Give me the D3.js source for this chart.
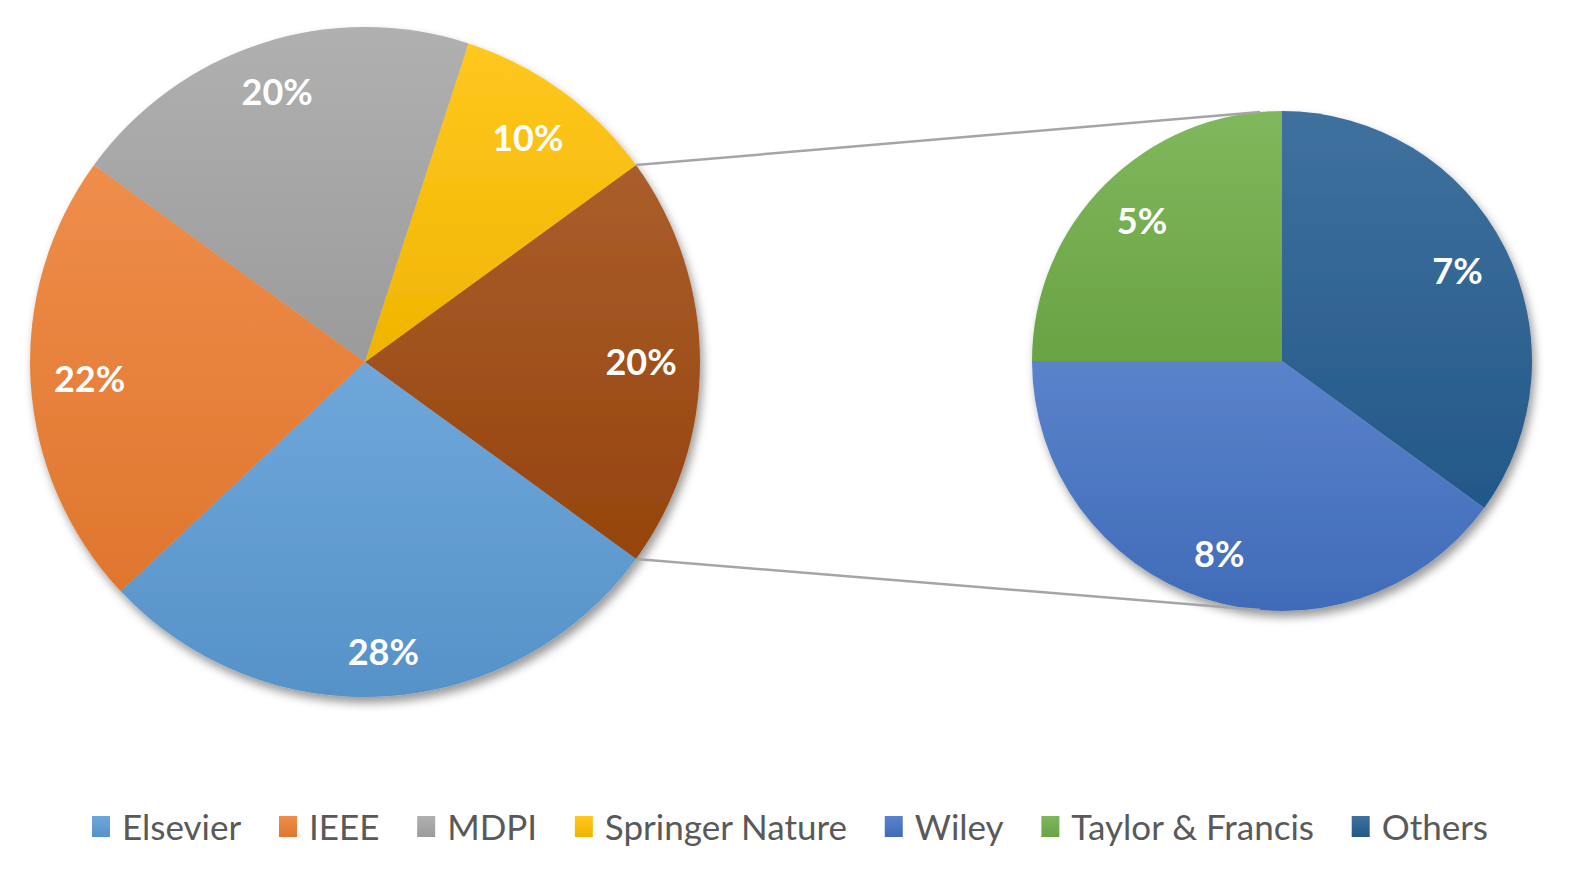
<!DOCTYPE html>
<html>
<head>
<meta charset="utf-8">
<script src="https://cdn.jsdelivr.net/npm/d3@7"></script>
<style>
  html, body { margin: 0; padding: 0; background: #fff; }
  svg { display: block; }
</style>
</head>
<body>
<div id="chart"></div>
<script>
// main pie: "Other" is the slice that gets split out on the right
const mainNames = ["Other", "Elsevier", "IEEE", "MDPI", "Springer Nature"];
const mainValues = [20, 28, 22, 20, 10];
const mainColors = ["#9E480E", "#5B9BD5", "#ED7D31", "#A5A5A5", "#FFC000"];

// secondary pie (breakdown of "Other")
const subNames = ["Others", "Wiley", "Taylor & Francis"];
const subValues = [7, 8, 5];
const subColors = ["#255E91", "#4472C4", "#70AD47"];

const legendNames = ["Elsevier", "IEEE", "MDPI", "Springer Nature", "Wiley", "Taylor & Francis", "Others"];
const legendColors = ["#5B9BD5", "#ED7D31", "#A5A5A5", "#FFC000", "#4472C4", "#70AD47", "#255E91"];

const W = 1584, H = 874;
const c1 = { x: 365, y: 362, r: 335 };
const c2 = { x: 1282, y: 361, r: 250 };

const svg = d3.select("#chart").append("svg")
  .attr("width", W)
  .attr("height", H)
  .style("font-family", "Lato, 'Open Sans', sans-serif");

const defs = svg.append("defs");

const shadow = defs.append("filter")
  .attr("id", "shadow")
  .attr("x", "-20%").attr("y", "-20%")
  .attr("width", "140%").attr("height", "140%");
shadow.append("feDropShadow")
  .attr("dx", 3).attr("dy", 6)
  .attr("stdDeviation", 5)
  .attr("flood-color", "#000")
  .attr("flood-opacity", 0.4);

// vertical gradient per shape, a bit lighter at the top
function makeGrad(id, color) {
  const g = defs.append("linearGradient")
    .attr("id", id)
    .attr("x1", 0).attr("x2", 0)
    .attr("y1", 0).attr("y2", 1);
  g.append("stop").attr("offset", "0%").attr("stop-color", d3.interpolateRgb(color, "#fff")(0.12));
  g.append("stop").attr("offset", "100%").attr("stop-color", d3.interpolateRgb(color, "#000")(0.06));
  return `url(#${id})`;
}

// place a label along the slice bisector as far out as its box still fits inside
function insideEnd(d, r, w, h) {
  const a = (d.startAngle + d.endAngle) / 2;
  const s = Math.sin(a), c = -Math.cos(a);
  let best = 0;
  for (let t = 0; t <= r; t += 1) {
    const cx = t * s, cy = t * c;
    const ok = [[-1, -1], [1, -1], [1, 1], [-1, 1]].every(([kx, ky]) =>
      Math.hypot(cx + kx * w / 2, cy + ky * h / 2) <= r);
    if (ok) best = t; else break;
  }
  return [best * s, best * c];
}

const pct = v => v + "%";

function drawPie(g, arcs, arc, colors, prefix, r) {
  g.append("g").attr("filter", "url(#shadow)")
    .selectAll("path")
    .data(arcs)
    .join("path")
    .attr("d", arc)
    .attr("fill", (d, i) => makeGrad(prefix + i, colors[i]));

  const labels = g.append("g")
    .selectAll("text")
    .data(arcs)
    .join("text")
    .attr("text-anchor", "middle")
    .attr("dy", "0.35em")
    .attr("fill", "#fff")
    .attr("font-weight", "bold")
    .attr("font-size", 36)
    .text(d => pct(d.value));

  labels.attr("transform", function (d) {
    const w = this.getComputedTextLength();
    const p = insideEnd(d, r - 22, w, 34);
    return `translate(${p})`;
  });
}

// ---- main pie
const otherFrac = mainValues[0] / d3.sum(mainValues);
const start1 = Math.PI / 2 - otherFrac * Math.PI;

const pie1 = d3.pie().sort(null).startAngle(start1).endAngle(start1 + 2 * Math.PI);
const arcs1 = pie1(mainValues);
const arc1 = d3.arc().innerRadius(0).outerRadius(c1.r);

const g1 = svg.append("g")
  .attr("transform", `translate(${c1.x},${c1.y})`);
drawPie(g1, arcs1, arc1, mainColors, "g1_", c1.r);

// ---- secondary pie
const pie2 = d3.pie().sort(null).startAngle(0).endAngle(2 * Math.PI);
const arcs2 = pie2(subValues);
const arc2 = d3.arc().innerRadius(0).outerRadius(c2.r);

const g2 = svg.append("g")
  .attr("transform", `translate(${c2.x},${c2.y})`);
drawPie(g2, arcs2, arc2, subColors, "g2_", c2.r);

// ---- connector lines from the split slice to the secondary pie
const oa = arcs1[0];
const endA = -5 * Math.PI / 180;
const lines = [
  [oa.startAngle, endA],
  [oa.endAngle, Math.PI - endA]
];
svg.append("g")
  .selectAll("line")
  .data(lines)
  .join("line")
  .attr("x1", d => c1.x + c1.r * Math.sin(d[0]))
  .attr("y1", d => c1.y - c1.r * Math.cos(d[0]))
  .attr("x2", d => c2.x + c2.r * Math.sin(d[1]))
  .attr("y2", d => c2.y - c2.r * Math.cos(d[1]))
  .attr("stroke", "#A5A5A5")
  .attr("stroke-width", 2.5);

// ---- legend
const legend = svg.append("g").attr("transform", "translate(0,827)");
const items = legend.selectAll("g")
  .data(legendNames)
  .join("g");

items.append("rect")
  .attr("y", -11)
  .attr("width", 18)
  .attr("height", 21)
  .attr("fill", (d, i) => makeGrad("lg_" + i, legendColors[i]));

items.append("text")
  .attr("x", 30)
  .attr("dy", "0.36em")
  .attr("fill", "#595959")
  .attr("font-size", 35)
  .text(d => d);

const widths = items.nodes().map(n => 30 + d3.select(n).select("text").node().getComputedTextLength());
const left = 92, right = 1488;
const gap = (right - left - d3.sum(widths)) / (widths.length - 1);
let xPos = left;
items.attr("transform", (d, i) => {
  const t = `translate(${xPos},0)`;
  xPos += widths[i] + gap;
  return t;
});
</script>
</body>
</html>
